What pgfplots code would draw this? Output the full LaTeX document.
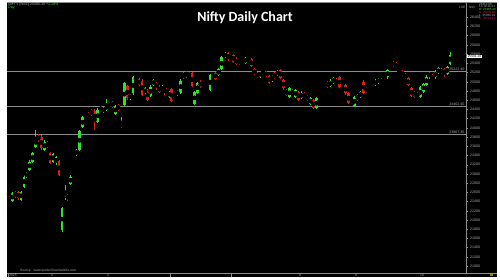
\documentclass[border=0pt]{standalone}
\usepackage{fontspec}
\setmainfont{Liberation Sans}
\newfontfamily\titlefont{Carlito}
\usepackage{pgfplots}
\pgfplotsset{compat=1.18}
\usepackage{pgfplotstable}
\definecolor{cg}{RGB}{45,225,45}
\definecolor{cr}{RGB}{225,30,30}
\definecolor{lvl}{RGB}{140,140,140}
\definecolor{tx}{RGB}{170,170,170}

\pgfplotstableread{
x top bot hi lo
12.3 22579 22420 22600 22390
21.0 22615 22434 22640 22410
24.0 22940 22723 22970 22700
26.7 23013 22940 23040 22920
29.7 23266 23085 23300 23060
32.7 23447 23266 23470 23240
35.7 23772 23591 23953 23570
44.3 23700 23519 23730 23500
53.0 23432 23266 23460 23240
56.0 23360 23230 23390 23200
62.0 22253 21783 22290 21750
65.0 22615 22521 22760 22435
70.7 22940 22781 22970 22760
76.7 23519 23411 23545 23390
79.7 23939 23519 23960 23500
82.7 24228 24011 24250 23990
97.7 24387 24134 24420 24110
103.7 24423 24351 24450 24330
106.7 24496 24387 24618 24370
109.3 24532 24474 24560 24450
115.3 24474 24300 24500 24280
121.3 24098 24011 24228 23990
124.3 24966 24496 24990 24470
130.0 24713 24640 24740 24610
133.0 25096 24749 25120 24720
145.0 24857 24749 24880 24720
150.7 24893 24691 24920 24670
153.7 25038 24930 25070 24900
162.7 24893 24821 24920 24800
169.0 24785 24676 24810 24650
174.3 24676 24604 24700 24580
177.3 24807 24713 24830 24690
180.7 25024 24763 25050 24740
189.0 25183 25125 25210 25100
194.7 24785 24517 24810 24490
197.7 24980 24763 25000 24740
203.3 24857 24821 24880 24800
206.3 24857 24821 24880 24800
210.0 25147 24821 25170 24800
212.7 25002 24966 25030 24940
218.7 25269 25147 25290 25120
221.7 25530 25269 25550 25250
225.0 25617 25544 25640 25520
239.7 25450 25400 25480 25370
242.3 25458 25436 25490 25410
245.3 25508 25414 25540 25390
260.0 25212 25110 25240 25090
263.0 25233 25183 25260 25160
272.0 25110 25024 25140 25000
277.7 25233 25147 25260 25120
289.7 24857 24662 24880 24640
295.7 24821 24676 24850 24650
301.3 24763 24640 24790 24620
310.3 24640 24517 24670 24490
316.3 24640 24423 24670 24400
321.7 24676 24640 24700 24620
324.7 24691 24662 24715 24640
330.7 25024 24908 25050 24880
333.7 25074 24980 25100 24960
342.7 25002 24966 25030 24940
354.7 24676 24474 24700 24450
360.7 24785 24662 24810 24640
372.7 24908 24879 24930 24860
375.7 25024 24930 25050 24910
378.7 25053 24980 25080 24960
381.7 25147 25096 25170 25070
387.7 25255 25096 25280 25070
390.3 25342 25269 25370 25250
420.3 24879 24662 24900 24640
423.3 24951 24785 24980 24760
426.3 25110 24930 25140 24910
429.3 25197 25096 25230 25070
435.3 25219 25096 25245 25070
438.3 25291 25183 25320 25160
441.3 25269 25183 25300 25160
447.3 25327 25168 25350 25140
450.0 25581 25385 25640 25360
}\greens

\pgfplotstableread{
x top bot hi lo
9.0 22593 22535 22615 22507
15.3 22615 22507 22640 22480
18.3 22615 22470 22630 22440
38.3 23823 23736 23860 23700
41.3 23808 23555 23840 23530
47.3 23678 23591 23710 23560
50.0 23447 23244 23480 23220
59.0 23288 22977 23310 22950
67.7 22543 22449 22570 22420
73.7 23447 23411 23470 23390
85.7 24279 24228 24300 24200
88.7 24423 24351 24460 24330
91.7 24387 24279 24410 24250
94.7 24373 24134 24400 23953
100.7 24445 24387 24470 24360
112.3 24561 24459 24590 24430
118.3 24496 24387 24520 24360
127.3 24908 24640 24930 24610
136.0 25074 25038 25100 25010
139.0 25053 24930 25080 24900
142.0 25024 24713 25050 24690
147.7 24821 24604 24850 24580
156.7 24980 24857 25000 24830
159.7 24893 24785 24920 24760
164.0 24857 24749 24880 24720
166.7 24835 24763 24860 24740
171.7 24835 24590 24860 24560
183.3 25183 25096 25210 25070
186.0 25204 25110 25230 25090
192.0 25183 24908 25210 24880
200.7 25002 24893 25030 24870
215.7 25197 25053 25220 25030
228.0 25617 25486 25640 25460
230.7 25544 25508 25570 25480
233.7 25573 25436 25600 25410
236.7 25501 25385 25530 25360
248.3 25508 25458 25530 25430
251.3 25486 25342 25510 25320
254.3 25269 25168 25290 25140
257.3 25183 25110 25210 25080
266.0 25212 25125 25240 25100
269.0 25125 24980 25150 24950
274.7 25183 25096 25210 25070
280.7 25255 25074 25280 25050
283.7 25038 24857 25060 24830
286.7 24821 24713 24850 24690
292.7 24930 24857 24960 24830
298.7 24785 24604 24810 24580
304.7 24749 24662 24770 24640
307.3 24691 24604 24720 24580
313.3 24604 24423 24630 24400
319.3 24604 24532 24630 24510
327.7 24980 24893 25010 24870
336.7 25161 25096 25190 25070
339.7 25096 24893 25120 24870
345.7 24930 24749 24960 24720
348.7 24749 24532 24770 24510
351.7 24568 24496 24590 24460
357.7 24713 24604 24740 24580
363.7 25002 24763 25030 24740
366.7 24857 24785 24880 24760
369.7 24857 24821 24880 24800
384.7 25147 25096 25170 25070
393.3 25414 25356 25440 25330
396.3 25400 25313 25430 25290
399.3 25255 25183 25280 25160
402.3 25219 25147 25250 25120
405.3 25168 25074 25190 25050
408.3 25074 24930 25100 24900
411.3 24857 24691 24880 24660
414.3 24785 24676 24810 24650
417.3 24749 24662 24770 24640
432.3 25110 25053 25170 25030
444.3 25269 25168 25290 25096
}\reds

\pgfplotsset{
  wick/.style={only marks, mark=none, error bars/.cd, y dir=both, y explicit,
    error mark=none, error bar style={line width=0.8pt, color=#1}},
  body/.style={only marks, mark=none, error bars/.cd, y dir=both, y explicit,
    error mark=none, error bar style={line width=2.6pt, color=#1}},
}

\begin{document}
\begin{tikzpicture}[x=1pt,y=1pt]
\useasboundingbox (0,0) rectangle (500,280);
\fill[white] (0,0) rectangle (500,280);
\fill[black] (7,3) rectangle (497,278);
\begin{axis}[
  at={(7pt,7pt)}, anchor=south west, scale only axis,
  width=459pt, height=271pt,
  xmin=7, xmax=466, ymin=20850, ymax=26731,
  axis x line*=bottom, axis y line*=right,
  axis line style={lvl, line width=0.6pt, -},
  xtick=\empty,
  ytick={21000,21200,...,26400},
  scaled y ticks=false,
  tick align=outside, major tick length=1.5pt,
  tick style={lvl, line width=0.4pt},
  yticklabel style={font=\fontsize{3.6}{4}\selectfont, text=tx, xshift=-1pt,
    /pgf/number format/fixed, /pgf/number format/precision=0,
    /pgf/number format/1000 sep={}, /pgf/number format/assume math mode=true},
  clip=true,
]
\addplot[lvl, line width=0.5pt] coordinates {(7,25222.4) (466,25222.4)};
\addplot[lvl, line width=0.5pt] coordinates {(7,24462.4) (466,24462.4)};
\addplot[lvl, line width=0.5pt] coordinates {(7,23867.3) (466,23867.3)};
\addplot[wick=cg] table[x=x, y expr={(\thisrow{hi}+\thisrow{lo})/2}, y error expr={(\thisrow{hi}-\thisrow{lo})/2}] {\greens};
\addplot[wick=cr] table[x=x, y expr={(\thisrow{hi}+\thisrow{lo})/2}, y error expr={(\thisrow{hi}-\thisrow{lo})/2}] {\reds};
\addplot[body=cg] table[x=x, y expr={(\thisrow{top}+\thisrow{bot})/2}, y error expr={(\thisrow{top}-\thisrow{bot})/2}] {\greens};
\addplot[body=cr] table[x=x, y expr={(\thisrow{top}+\thisrow{bot})/2}, y error expr={(\thisrow{top}-\thisrow{bot})/2}] {\reds};
\node[anchor=south east, inner sep=0.4pt, text=tx, font=\fontsize{3.6}{4}\selectfont] at (axis cs:465,25222.4) {25222.40};
\node[anchor=south east, inner sep=0.4pt, text=tx, font=\fontsize{3.6}{4}\selectfont] at (axis cs:465,24462.4) {24462.40};
\node[anchor=south east, inner sep=0.4pt, text=tx, font=\fontsize{3.6}{4}\selectfont] at (axis cs:465,23867.3) {23867.30};
\end{axis}
% bottom line extension
\draw[lvl, line width=0.6pt] (466,7) -- (497,7);
\draw[lvl, line width=0.5pt] (7,278) -- (497,278);
% title
\node[text=white, font=\titlefont\bfseries\fontsize{14}{16}\selectfont] at (245,262) {Nifty Daily Chart};
% top-left info
\node[anchor=west, inner sep=0, font=\fontsize{3.6}{4}\selectfont, text=tx] at (8,275.5) {NIFTY [NSE] 25585.30 \textcolor{cg}{+1.18\%}};
\node[anchor=west, inner sep=0, font=\fontsize{3.6}{4}\selectfont, text=cg] at (8,272.5) {Day};
% top-right info
\node[anchor=west, inner sep=0, font=\fontsize{3.2}{4}\selectfont, text=tx] at (459,272.7) {LSE};
\node[anchor=west, inner sep=0, font=\fontsize{3.2}{4}\selectfont, text=tx] at (469,272.7) {NIO};
\node[anchor=west, inner sep=0, font=\fontsize{3}{3.4}\selectfont, text=tx] at (479,276) {25412.00};
\node[anchor=west, inner sep=0, font=\fontsize{3}{3.4}\selectfont, text=tx] at (479,273.3) {13.10.25 01};
\node[anchor=west, inner sep=0, font=\fontsize{3}{3.4}\selectfont, text=cg] at (479,270.6) {O: 25385.40};
\node[anchor=west, inner sep=0, font=\fontsize{3}{3.4}\selectfont, text=cr] at (479,267.7) {H: 25640.90};
\node[anchor=west, inner sep=0, font=\fontsize{3}{3.4}\selectfont, text=tx] at (479,264.6) {L: 25360.10};
\node[anchor=west, inner sep=0, font=\fontsize{3}{3.4}\selectfont, text=magenta] at (479,261.7) {C: 25581.20};
% current price box
\node[fill=white, text=black, inner sep=0.6pt, anchor=west, font=\fontsize{3.2}{4}\selectfont] at (467,223.3) {25581.20};
% source
\node[anchor=west, inner sep=0, font=\fontsize{3.3}{4}\selectfont, text=tx] at (20,9) {Source : www.tpoder.financialinfo.com};
% x labels
\foreach \xx/\lab in {13/2025, 52/4, 108/5, 300/8, 356/9, 422/10}
  \node[inner sep=0, font=\fontsize{3.3}{4}\selectfont, text=tx] at (\xx,4.8) {\lab};
\foreach \xx in {8,170,231}
  \draw[lvl, line width=0.4pt] (\xx,7) -- (\xx,3);
\fill[olive] (490,3.5) rectangle (493,6);
\end{tikzpicture}
\end{document}
